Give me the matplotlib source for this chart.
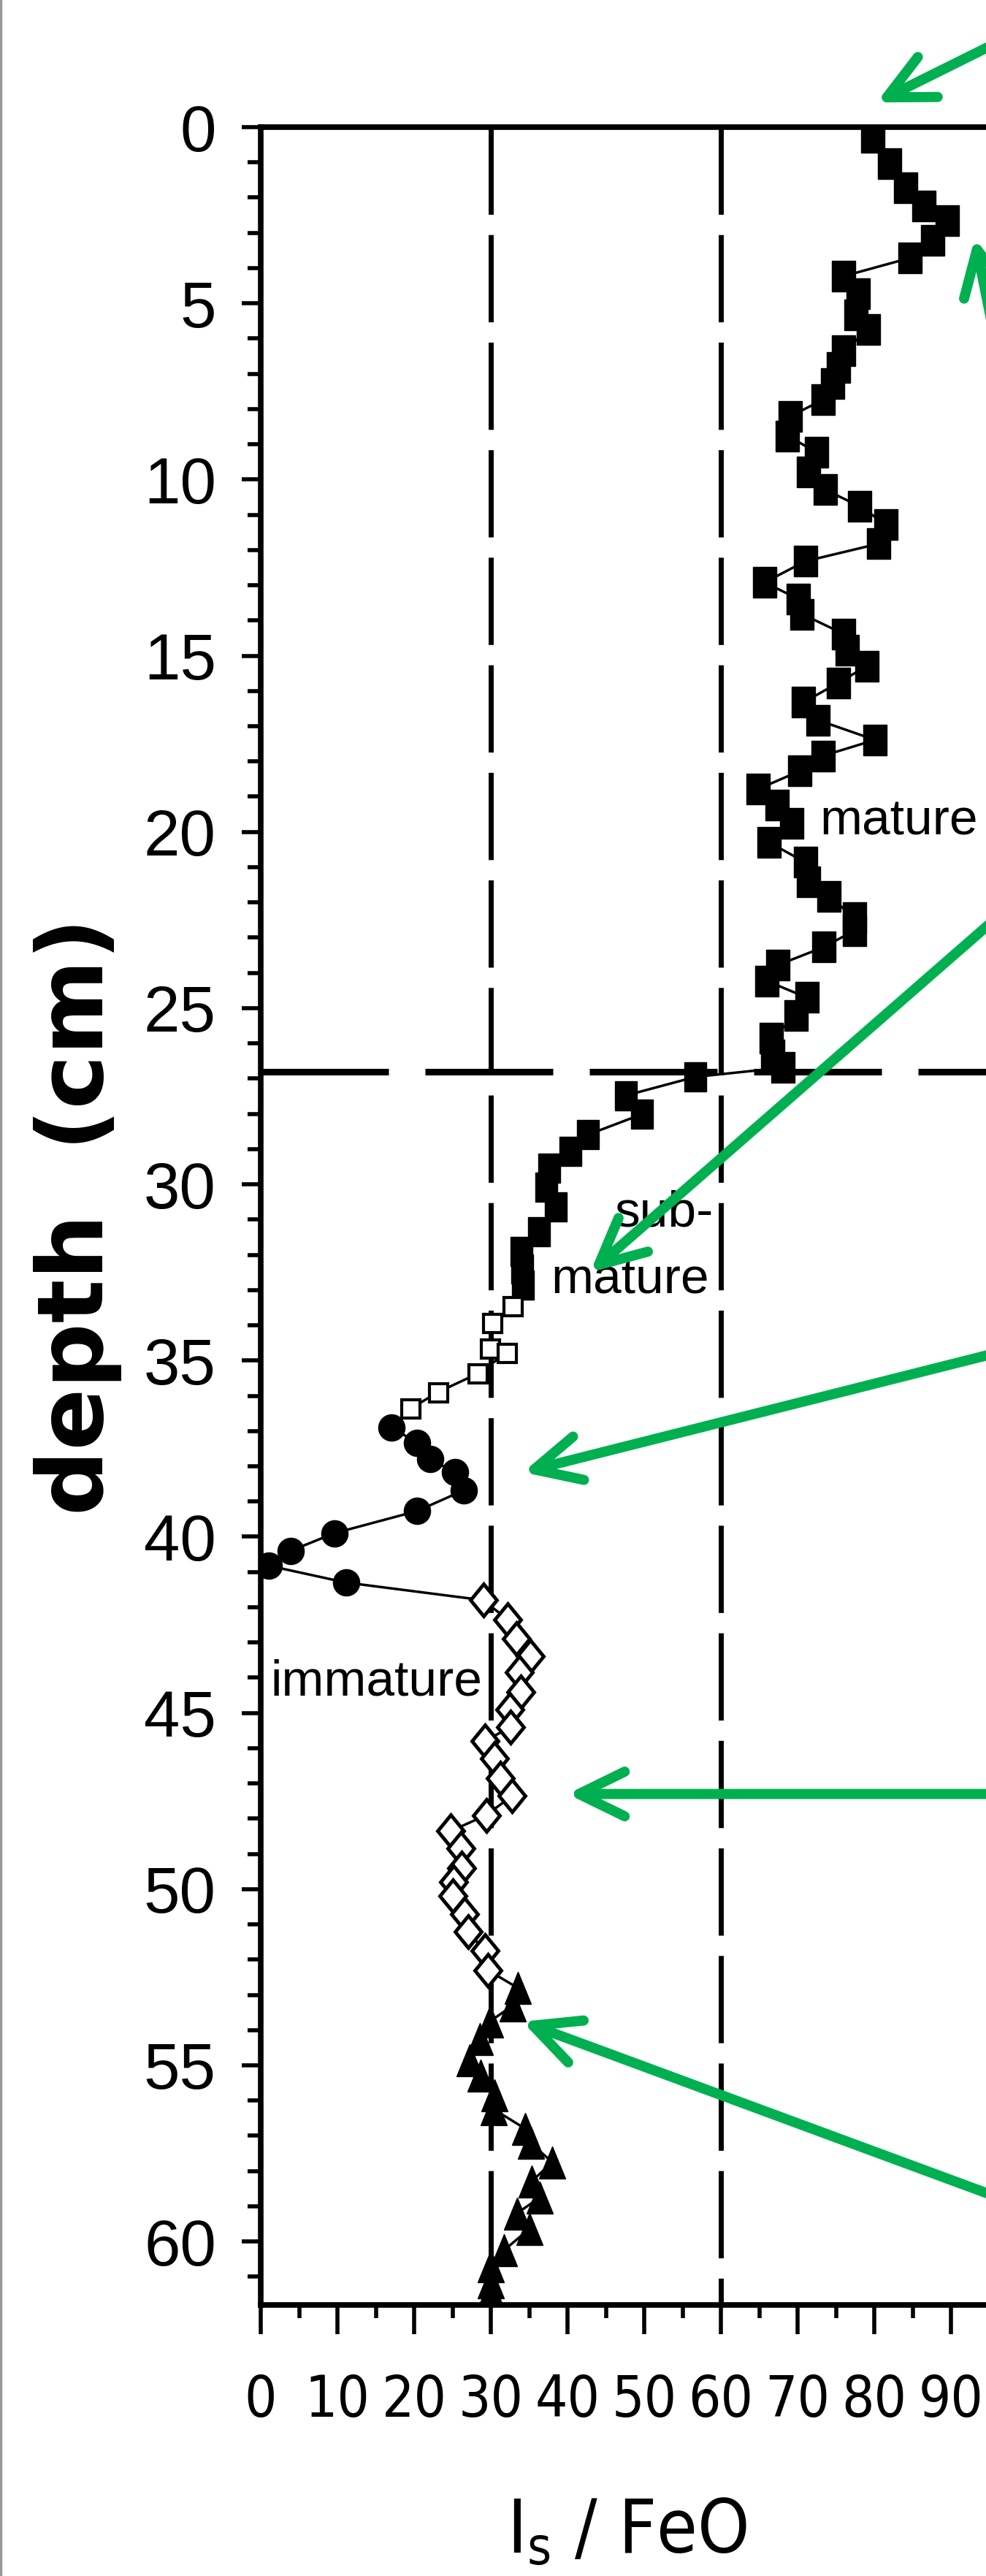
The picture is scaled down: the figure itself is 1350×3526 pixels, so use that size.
import matplotlib
matplotlib.use('Agg')
import matplotlib.pyplot as plt
from matplotlib import font_manager
from matplotlib.font_manager import FontProperties
from matplotlib.markers import MarkerStyle
from matplotlib.transforms import Affine2D
from matplotlib.ticker import MultipleLocator
from matplotlib.lines import Line2D

# Is/FeO against depth
mature_x = [79.8, 82.0, 84.1, 86.5, 89.5, 87.6, 84.7, 76.0, 77.9, 77.6,
            79.2, 76.0, 75.3, 74.6, 73.3, 69.0, 68.7, 72.5, 71.4, 73.6,
            78.1, 81.5, 80.6, 71.0, 65.7, 70.1, 70.6, 76.0, 76.5, 79.0,
            75.3, 70.8, 72.7, 80.1, 73.3, 70.3, 64.9, 67.3, 69.2, 66.3,
            71.0, 71.4, 74.1, 77.4, 77.4, 73.4, 67.4, 66.0, 71.2, 69.8,
            66.6, 66.8, 68.1]
mature_d = [0.29, 1.03, 1.72, 2.23, 2.65, 3.21, 3.71, 4.23, 4.73, 5.33,
            5.75, 6.35, 6.82, 7.28, 7.74, 8.21, 8.76, 9.23, 9.78, 10.29,
            10.76, 11.27, 11.82, 12.32, 12.92, 13.39, 13.82, 14.38, 14.84, 15.30,
            15.77, 16.32, 16.83, 17.39, 17.84, 18.27, 18.78, 19.23, 19.75, 20.30,
            20.86, 21.41, 21.83, 22.43, 22.80, 23.27, 23.78, 24.23, 24.70, 25.21,
            25.86, 26.33, 26.69]

sub_x = [56.7, 47.6, 49.7, 42.7, 40.4, 37.6, 37.2, 38.5, 36.3, 34.0, 34.1, 34.2]
sub_d = [26.95, 27.48, 28.01, 28.59, 29.07, 29.55, 30.08, 30.65, 31.34, 31.9, 32.4, 32.85]

osq_x = [32.9, 30.2, 29.9, 32.1, 28.3, 23.1, 19.5]
osq_d = [33.46, 33.94, 34.67, 34.78, 35.37, 35.90, 36.37]

cir_x = [17.0, 20.4, 22.1, 25.3, 26.5, 20.4, 9.6, 3.9, 1.0, 11.1]
cir_d = [36.90, 37.33, 37.80, 38.17, 38.68, 39.27, 39.9, 40.4, 40.82, 41.3]

dia_x = [29.0, 32.2, 33.3, 35.1, 33.7, 33.9, 32.5, 32.6, 29.2, 30.5,
         31.2, 32.8, 29.4, 24.8, 26.1, 26.2, 25.1, 25.0, 26.6, 27.0,
         29.2, 29.6]
dia_d = [41.8, 42.35, 42.9, 43.4, 43.85, 44.4, 44.9, 45.4, 45.8, 46.3,
         46.85, 47.35, 47.9, 48.35, 48.85, 49.4, 49.8, 50.2, 50.7, 51.2,
         51.75, 52.3]

tri_x = [33.5, 32.9, 29.9, 28.6, 27.2, 28.7, 30.5, 30.4, 34.5, 35.2,
         38.0, 35.3, 36.4, 33.4, 35.0, 31.7, 30.0, 30.0, 30.0]
tri_d = [52.8, 53.3, 53.75, 54.25, 54.85, 55.3, 55.85, 56.25, 56.8, 57.2,
         57.75, 58.3, 58.75, 59.2, 59.65, 60.25, 60.7, 61.15, 61.45]

zone_names = ['mature', 'sub-', 'mature', 'immature']
zone_x = [72.9, 46.1, 37.8, 1.3]
zone_d = [20.07, 31.2, 33.1, 44.5]

maturity_limits = [30, 60]
boundary_depth = 26.8
xtick_values = list(range(0, 100, 10))

# green call-out arrows: tip and tail, in data units
arrow_tips = [(80.3, -0.7), (93.1, 3.15), (42.95, 32.5), (34.2, 38.17), (40.0, 47.3), (34.1, 53.76)]
arrow_tails = [(109.9, -3.9), (96.0, 6.3), (99.3, 21.8), (99.3, 34.6), (104.0, 47.3), (99.3, 59.0)]

GREEN = '#00B050'


def narrow_font():
    # pick a condensed sans face if one is installed
    fonts = font_manager.fontManager.ttflist
    for f in fonts:
        if f.name == 'Liberation Sans Narrow' and f.style == 'normal' and f.weight in (400, 'normal', 'regular'):
            return f.fname, 66
    for fam in ['DejaVu Sans', 'Noto Sans', 'Open Sans', 'Roboto', 'Lato']:
        for f in fonts:
            if (f.name == fam and f.stretch == 'condensed' and f.style == 'normal'
                    and f.weight in (400, 'normal', 'regular', 'book')):
                return f.fname, 56
    return None, 50


narrow_path, xtick_size = narrow_font()
if narrow_path:
    xtick_fp = FontProperties(fname=narrow_path, size=xtick_size)
    xlab_fp = FontProperties(fname=narrow_path, size=xtick_size * 1.3)
else:
    xtick_fp = FontProperties(family='DejaVu Sans', size=xtick_size)
    xlab_fp = FontProperties(family='DejaVu Sans', size=70)

plt.rcParams['lines.scale_dashes'] = False
plt.rcParams['mathtext.default'] = 'regular'

fig = plt.figure(figsize=(13.5, 35.26), dpi=100)
ax = fig.add_axes([357 / 1350, 1 - 3155 / 3526, 1050 / 1350, 2981 / 3526])
ax.set_xlim(0, 100)
ax.set_ylim(61.8, 0)

# dashed maturity limits
for v in maturity_limits:
    ax.plot([v, v], [0, 61.8], color='black', lw=5, dashes=(86, 20),
            dash_capstyle='butt', zorder=2)
ax.plot([0, 100], [boundary_depth, boundary_depth], color='black', lw=6.5,
        dashes=(126, 36), dash_capstyle='butt', zorder=2)

# profile line through every sample
all_x = mature_x + sub_x + osq_x + cir_x + dia_x + tri_x
all_d = mature_d + sub_d + osq_d + cir_d + dia_d + tri_d
ax.plot(all_x, all_d, color='black', lw=2.5, zorder=3)

sq = MarkerStyle('s', transform=Affine2D().scale(1, 1.3))
dia = MarkerStyle('D', transform=Affine2D().scale(1, 1.25))
tri = MarkerStyle('^', transform=Affine2D().scale(1, 1.2))

ax.plot(mature_x, mature_d, ls='none', marker=sq, ms=23, color='black', zorder=4)
ax.plot(sub_x, sub_d, ls='none', marker=sq, ms=22, color='black', zorder=4)
ax.plot(osq_x, osq_d, ls='none', marker='s', ms=18, mfc='white', mec='black',
        mew=3, zorder=4)
ax.plot(cir_x, cir_d, ls='none', marker='o', ms=26, color='black', zorder=4)
ax.plot(dia_x, dia_d, ls='none', marker=dia, ms=18, mfc='white', mec='black',
        mew=3.5, zorder=4)
ax.plot(tri_x, tri_d, ls='none', marker=tri, ms=26, color='black', zorder=4)

for name, x, d in zip(zone_names, zone_x, zone_d):
    ax.text(x, d, name, family='Liberation Sans', fontsize=50, va='baseline',
            ha='left', zorder=5)

for tip, tail in zip(arrow_tips, arrow_tails):
    ax.annotate('', xy=tip, xytext=tail, annotation_clip=False, zorder=10,
                arrowprops=dict(arrowstyle='->, head_length=45, head_width=22',
                                mutation_scale=1, color=GREEN, lw=10,
                                capstyle='round', joinstyle='round',
                                shrinkA=0, shrinkB=0))

# axes frame and ticks
for side in ['left', 'top', 'bottom']:
    ax.spines[side].set_linewidth(5.5)
ax.spines['right'].set_visible(False)

ax.yaxis.set_major_locator(MultipleLocator(5))
ax.yaxis.set_minor_locator(MultipleLocator(1))
ax.xaxis.set_minor_locator(MultipleLocator(5))
ax.tick_params(axis='y', which='major', direction='out', length=19, width=4,
               pad=25, labelsize=64)
ax.tick_params(axis='y', which='minor', direction='out', length=13, width=4)
ax.tick_params(axis='x', which='major', direction='out', length=29, width=4, pad=38)
ax.tick_params(axis='x', which='minor', direction='out', length=13, width=4)
ax.set_xticks(xtick_values)
ax.set_xticklabels([str(v) for v in xtick_values])
for lab in ax.get_yticklabels():
    lab.set_family('Liberation Sans')
for lab in ax.get_xticklabels():
    lab.set_fontproperties(xtick_fp)

ax.set_ylabel('depth  (cm)', fontsize=90, fontweight='bold', family='DejaVu Sans')
ax.yaxis.set_label_coords(-0.181, 0.5)
ax.set_xlabel('I$_{s}$ / FeO', fontproperties=xlab_fp)
ax.xaxis.label.set_va('baseline')
ax.xaxis.set_label_coords(0.478, -0.114)

fig.add_artist(Line2D([0.001, 0.001], [0, 1], color='#999999', lw=2.5))

fig.savefig('out.png', dpi=100)
